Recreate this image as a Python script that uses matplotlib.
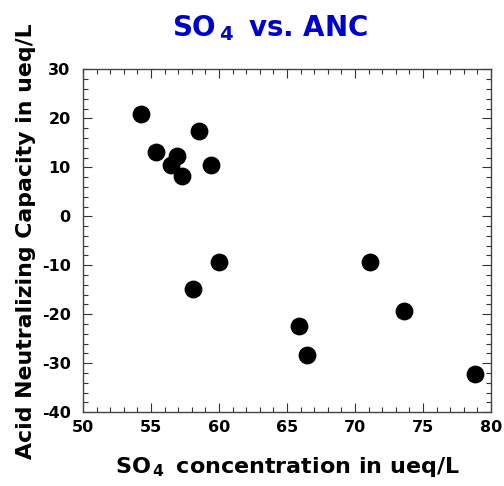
import matplotlib
matplotlib.use('Agg')
import matplotlib.pyplot as plt
from matplotlib.ticker import MultipleLocator

plt.rcParams['font.family'] = ['DejaVu Sans']
plt.rcParams['font.weight'] = 'bold'
plt.rcParams['mathtext.fontset'] = 'dejavusans'
plt.rcParams['mathtext.default'] = 'bf'
plt.rcParams['axes.unicode_minus'] = False

# SO4 concentration (ueq/L) and ANC (ueq/L)
so4 = [54.3, 58.5, 55.4, 56.9, 56.5, 59.4, 57.3, 60.0, 58.1,
       71.1, 73.6, 65.9, 66.5, 78.8]
anc = [21.0, 17.4, 13.2, 12.3, 10.5, 10.4, 8.3, -9.4, -14.9,
       -9.4, -19.3, -22.5, -28.4, -32.2]

fig = plt.figure(figsize=(5.04, 4.86), dpi=100)
ax = fig.add_axes([0.1647, 0.152, 0.8095, 0.705])

ax.scatter(so4, anc, s=140, color='black', zorder=3)

ax.set_xlim(50, 80)
ax.set_ylim(-40, 30)
ax.xaxis.set_major_locator(MultipleLocator(5))
ax.xaxis.set_minor_locator(MultipleLocator(1))
ax.yaxis.set_major_locator(MultipleLocator(10))
ax.yaxis.set_minor_locator(MultipleLocator(2))
ax.tick_params(which='both', direction='in', top=True, right=True,
               labelsize=11.5, width=0.8, color='#333333')
ax.tick_params(which='major', length=6.5)
ax.tick_params(axis='y', which='major', pad=9)
ax.tick_params(axis='x', which='major', pad=6)
ax.tick_params(which='minor', length=3.5)
for sp in ax.spines.values():
    sp.set_linewidth(1.0)
    sp.set_color('#444444')

ax.set_xlabel(r'SO$_{\,4}\,$ concentration in ueq/L', fontsize=16, fontweight='bold', labelpad=14)
ax.set_ylabel('Acid Neutralizing Capacity in ueq/L', fontsize=15.8, fontweight='bold', labelpad=4)
fig.text(270 / 504, 1 - 36 / 486, r'SO$_{\,4}\,$ vs. ANC', fontsize=20, fontweight='bold',
         color='#0000CC', ha='center', va='baseline')

fig.savefig('out.png', dpi=100)
